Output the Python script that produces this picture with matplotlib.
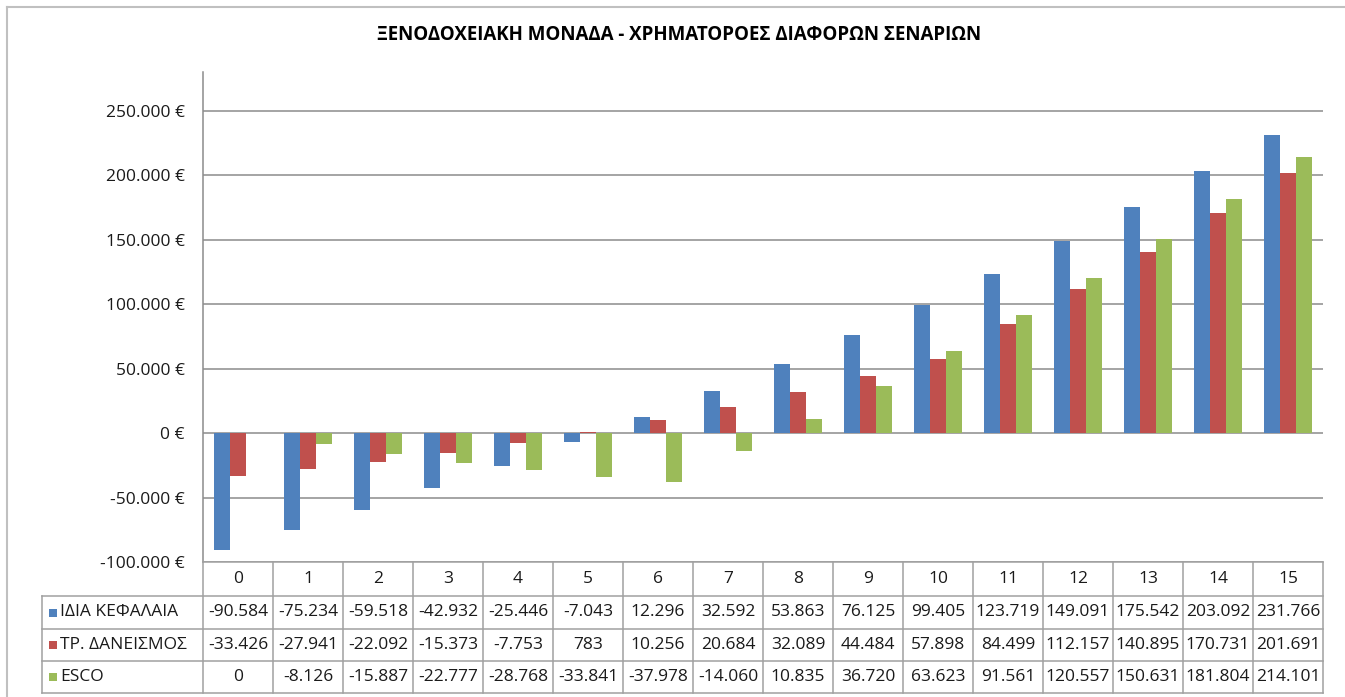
import numpy as np
import matplotlib
matplotlib.use('Agg')
import matplotlib.pyplot as plt
from matplotlib.patches import Rectangle
from matplotlib.lines import Line2D

plt.rcParams['font.family'] = ['Open Sans', 'DejaVu Sans']

years = list(range(16))
series_names = ['ΙΔΙΑ ΚΕΦΑΛΑΙΑ', 'ΤΡ. ΔΑΝΕΙΣΜΟΣ', 'ESCO']
own_funds = [-90584, -75234, -59518, -42932, -25446, -7043, 12296, 32592,
             53863, 76125, 99405, 123719, 149091, 175542, 203092, 231766]
bank_loan = [-33426, -27941, -22092, -15373, -7753, 783, 10256, 20684,
             32089, 44484, 57898, 84499, 112157, 140895, 170731, 201691]
esco = [0, -8126, -15887, -22777, -28768, -33841, -37978, -14060,
        10835, 36720, 63623, 91561, 120557, 150631, 181804, 214101]
colors = ['#4F81BD', '#C0504D', '#9BBB59']
y_ticks = [-100000, -50000, 0, 50000, 100000, 150000, 200000, 250000]

W, H = 1345, 697


def fx(px):
    return px / W


def fy(py):
    return 1 - py / H


def fmt(v):
    return '{:,}'.format(v).replace(',', '.')


fig = plt.figure(figsize=(W / 100, H / 100), dpi=100)

# outer chart frame
fig.add_artist(Line2D([fx(7), 1], [fy(7), fy(7)], color='#c0c0c0', lw=1.5))
fig.add_artist(Line2D([fx(7), fx(7)], [fy(7), 0], color='#c0c0c0', lw=1.5))

ax = fig.add_axes([fx(203), fy(562), fx(1323) - fx(203), fy(72) - fy(562)])

all_series = [own_funds, bank_loan, esco]
x = np.arange(len(years))
width = 0.225
for i, vals in enumerate(all_series):
    ax.bar(x + (i - 1) * width, vals, width, color=colors[i], zorder=3)

ax.set_xlim(-0.5, 15.5)
ax.set_ylim(-100000, 280300)
ax.set_yticks(y_ticks)
ax.set_yticklabels([fmt(v) + ' €' for v in y_ticks], fontsize=12.5, color='#1a1a1a')
ax.tick_params(axis='y', length=0, pad=13)
ax.set_xticks([])
ax.yaxis.grid(True, color='#8c8c8c', lw=1.1)
ax.set_axisbelow(True)
for s in ['top', 'right', 'bottom']:
    ax.spines[s].set_visible(False)
ax.spines['left'].set_color('#8c8c8c')
ax.spines['left'].set_linewidth(1.1)

fig.text(fx(679), fy(35), 'ΞΕΝΟΔΟΧΕΙΑΚΗ ΜΟΝΑΔΑ - ΧΡΗΜΑΤΟΡΟΕΣ ΔΙΑΦΟΡΩΝ ΣΕΝΑΡΙΩΝ',
         ha='center', va='center', fontsize=13.5, fontweight='bold')

# data table under the chart
grid_c = '#a0a0a0'
col_left = 203
col_w = 70
label_left = 42
row_y = [562, 596, 629, 661, 693]
right = col_left + col_w * len(years)

fig.add_artist(Line2D([fx(col_left), fx(right)], [fy(row_y[0])] * 2, color=grid_c, lw=1.1))
for yy in row_y[1:]:
    fig.add_artist(Line2D([fx(label_left), fx(right)], [fy(yy)] * 2, color=grid_c, lw=1.1))
for k in range(len(years) + 1):
    xx = col_left + k * col_w
    fig.add_artist(Line2D([fx(xx)] * 2, [fy(row_y[0]), fy(row_y[-1])], color=grid_c, lw=1.1))
fig.add_artist(Line2D([fx(label_left)] * 2, [fy(row_y[1]), fy(row_y[-1])], color=grid_c, lw=1.1))

for k, yr in enumerate(years):
    cx = col_left + (k + 0.5) * col_w
    fig.text(fx(cx), fy((row_y[0] + row_y[1]) / 2), str(yr),
             ha='center', va='center', fontsize=12.5, color='#1a1a1a')

for r, (name, vals) in enumerate(zip(series_names, all_series)):
    cy = (row_y[r + 1] + row_y[r + 2]) / 2
    fig.add_artist(Rectangle((fx(49), fy(cy + 4)), fx(8), fy(0) - fy(8),
                             facecolor=colors[r], edgecolor='none'))
    fig.text(fx(60), fy(cy), name, ha='left', va='center', fontsize=12.5, color='#1a1a1a')
    for k, v in enumerate(vals):
        cx = col_left + (k + 0.5) * col_w
        fig.text(fx(cx), fy(cy), fmt(v), ha='center', va='center', fontsize=12.5,
                 color='#1a1a1a')

fig.savefig('out.png', dpi=100)
